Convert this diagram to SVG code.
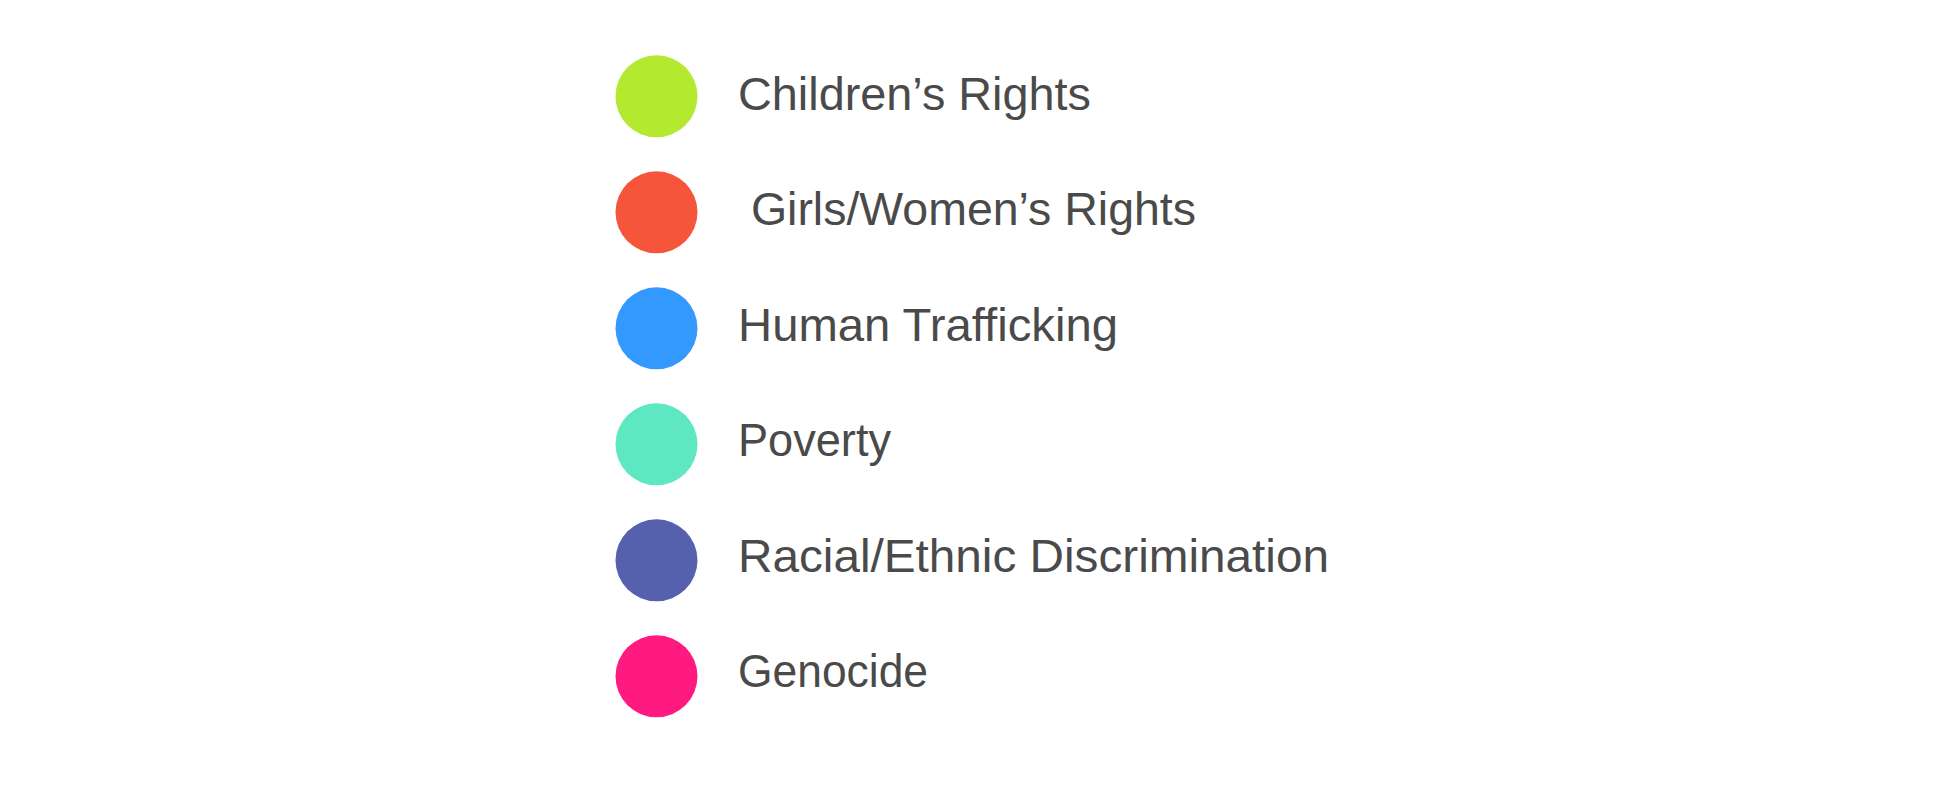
<svg xmlns="http://www.w3.org/2000/svg" width="1948" height="790" viewBox="0 0 1948 790">
<style>
.lbl{font-family:"Liberation Sans",Arial,sans-serif;font-size:46px;fill:#4a4a4a;white-space:pre}
</style>
<rect width="1948" height="790" fill="#ffffff"/>
<g id="item-childrens-rights"><circle cx="656.5" cy="96.3" r="41" fill="#b3e92f"/><text class="lbl" x="738" y="110" textLength="353" lengthAdjust="spacingAndGlyphs">Children’s Rights</text></g>
<g id="item-girls-womens-rights"><circle cx="656.5" cy="212.3" r="41" fill="#f5553a"/><text class="lbl" x="738" y="225.4" xml:space="preserve" textLength="458" lengthAdjust="spacingAndGlyphs"> Girls/Women’s Rights</text></g>
<g id="item-human-trafficking"><circle cx="656.5" cy="328.3" r="41" fill="#3399ff"/><text class="lbl" x="738" y="340.8" textLength="380" lengthAdjust="spacingAndGlyphs">Human Trafficking</text></g>
<g id="item-poverty"><circle cx="656.5" cy="444.3" r="41" fill="#5ee8c2"/><text class="lbl" x="738" y="456.2" textLength="153" lengthAdjust="spacingAndGlyphs">Poverty</text></g>
<g id="item-racial-ethnic-discrimination"><circle cx="656.5" cy="560.3" r="41" fill="#5561ad"/><text class="lbl" x="738" y="571.6" textLength="591" lengthAdjust="spacingAndGlyphs">Racial/Ethnic Discrimination</text></g>
<g id="item-genocide"><circle cx="656.5" cy="676.3" r="41" fill="#ff1a82"/><text class="lbl" x="738" y="687" textLength="190" lengthAdjust="spacingAndGlyphs">Genocide</text></g>
<g id="connectors"/>
</svg>
